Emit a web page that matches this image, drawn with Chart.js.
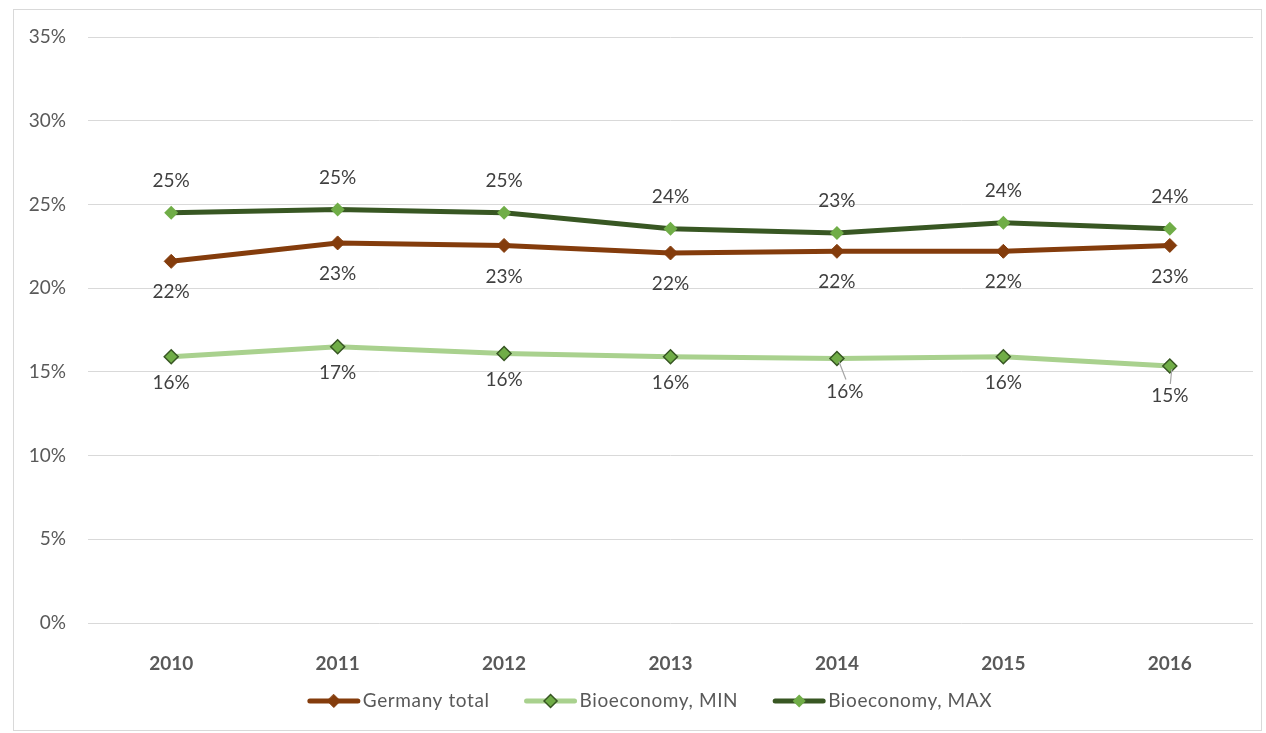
<!DOCTYPE html>
<html>
<head>
<meta charset="utf-8">
<script src="https://cdn.jsdelivr.net/npm/chart.js@4.4.1/dist/chart.umd.min.js"></script>
<style>
  html, body { margin: 0; padding: 0; background: #fff; }
  #wrap { width: 1266px; height: 733px; }
</style>
</head>
<body>
<div id="wrap"><canvas id="chart" width="1266" height="733"></canvas></div>
<script>
// data (shares, %)
const years = ['2010', '2011', '2012', '2013', '2014', '2015', '2016'];
const germanyTotal = [21.6, 22.7, 22.55, 22.1, 22.2, 22.2, 22.55];
const bioMin = [15.9, 16.5, 16.1, 15.9, 15.8, 15.9, 15.35];
const bioMax = [24.5, 24.7, 24.5, 23.55, 23.3, 23.9, 23.55];
const yTicks = [0, 5, 10, 15, 20, 25, 30, 35];

const FONT = 'Lato, "Open Sans", sans-serif';

// frame around the whole chart
const framePlugin = {
  id: 'frame',
  beforeDraw(chart) {
    const ctx = chart.ctx;
    ctx.save();
    ctx.strokeStyle = '#d9d9d9';
    ctx.lineWidth = 1;
    ctx.strokeRect(13.5, 9.5, 1248, 721);
    ctx.restore();
  }
};

// value labels next to the points
const labelPlugin = {
  id: 'valueLabels',
  afterDatasetsDraw(chart, args, opts) {
    const ctx = chart.ctx;
    ctx.save();
    ctx.font = '19px ' + FONT;
    ctx.fillStyle = '#404040';
    ctx.textAlign = 'center';
    ctx.textBaseline = 'middle';
    chart.data.datasets.forEach((ds, i) => {
      const meta = chart.getDatasetMeta(i);
      const cfg = opts.sets[i];
      meta.data.forEach((pt, j) => {
        const extra = (cfg.extra && cfg.extra[j]) || [0, 0];
        const x = pt.x + extra[0];
        const y = pt.y + cfg.dy + extra[1];
        if (extra[1] !== 0) {
          // leader line
          ctx.strokeStyle = '#a6a6a6';
          ctx.lineWidth = 1.2;
          ctx.beginPath();
          ctx.moveTo(pt.x + 2, pt.y + 3);
          ctx.lineTo(x + (extra[0] ? 1 : 0.5), y - 12);
          ctx.stroke();
        }
        ctx.fillText(Math.round(ds.data[j]) + '%', x, y);
      });
    });
    ctx.restore();
  }
};

// legend: line with diamond marker
const legendPlugin = {
  id: 'lineLegend',
  afterDraw(chart) {
    const ctx = chart.ctx;
    ctx.save();
    ctx.font = '19px ' + FONT;
    ctx.letterSpacing = '0.6px';
    ctx.textBaseline = 'middle';
    const y = 701;
    const lineW = 52, gap = 3, spacing = 35;
    const items = chart.data.datasets.map(ds => ({ ds, w: lineW + gap + ctx.measureText(ds.label).width }));
    const total = items.reduce((s, it) => s + it.w, 0) + spacing * (items.length - 1);
    let x = (chart.width - total) / 2 + 17;
    items.forEach(it => {
      const ds = it.ds;
      ctx.strokeStyle = ds.borderColor;
      ctx.lineWidth = 5;
      ctx.lineCap = 'round';
      ctx.beginPath();
      ctx.moveTo(x + 2, y);
      ctx.lineTo(x + lineW - 2, y);
      ctx.stroke();
      const cx = x + lineW / 2, r = 6.5;
      ctx.beginPath();
      ctx.moveTo(cx, y - r);
      ctx.lineTo(cx + r, y);
      ctx.lineTo(cx, y + r);
      ctx.lineTo(cx - r, y);
      ctx.closePath();
      ctx.fillStyle = ds.pointBackgroundColor;
      ctx.fill();
      ctx.lineWidth = ds.pointBorderWidth;
      ctx.strokeStyle = ds.pointBorderColor;
      if (ds.pointBorderWidth > 0) ctx.stroke();
      ctx.fillStyle = '#595959';
      ctx.textAlign = 'left';
      ctx.fillText(ds.label, x + lineW + gap, y);
      x += it.w + spacing;
    });
    ctx.restore();
  }
};

new Chart(document.getElementById('chart').getContext('2d'), {
  type: 'line',
  data: {
    labels: years,
    datasets: [
      {
        label: 'Germany total',
        data: germanyTotal,
        borderColor: '#843c0c',
        borderWidth: 5,
        pointStyle: 'rectRot',
        pointRadius: 7,
        pointBackgroundColor: '#843c0c',
        pointBorderColor: '#843c0c',
        pointBorderWidth: 1,
        tension: 0
      },
      {
        label: 'Bioeconomy, MIN',
        data: bioMin,
        borderColor: '#a9d18e',
        borderWidth: 5,
        pointStyle: 'rectRot',
        pointRadius: 7,
        pointBackgroundColor: '#70ad47',
        pointBorderColor: '#375623',
        pointBorderWidth: 1.5,
        tension: 0
      },
      {
        label: 'Bioeconomy, MAX',
        data: bioMax,
        borderColor: '#385723',
        borderWidth: 5,
        pointStyle: 'rectRot',
        pointRadius: 7,
        pointBackgroundColor: '#70ad47',
        pointBorderColor: '#70ad47',
        pointBorderWidth: 0,
        tension: 0
      }
    ]
  },
  options: {
    responsive: false,
    animation: false,
    layout: { padding: { left: 0, right: 13, top: 37, bottom: 60 } },
    plugins: {
      legend: { display: false },
      tooltip: { enabled: false },
      valueLabels: {
        sets: [
          { dy: 31 },
          { dy: 26, extra: { 4: [8, 7], 6: [0, 4] } },
          { dy: -32 }
        ]
      }
    },
    scales: {
      x: {
        offset: true,
        grid: { display: false },
        border: { display: false },
        ticks: { color: '#595959', font: { family: FONT, size: 19, weight: 'bold' }, padding: 21 },
        afterFit: s => { s.height = 50; }
      },
      y: {
        min: 0,
        max: 35,
        afterBuildTicks: s => { s.ticks = yTicks.map(v => ({ value: v })); },
        grid: { color: '#d9d9d9', lineWidth: 1, drawTicks: false },
        border: { display: false },
        ticks: { color: '#595959', font: { family: FONT, size: 19 }, padding: 22, callback: v => v + '%' },
        afterFit: s => { s.width = 88; }
      }
    }
  },
  plugins: [framePlugin, labelPlugin, legendPlugin]
});
</script>
</body>
</html>
